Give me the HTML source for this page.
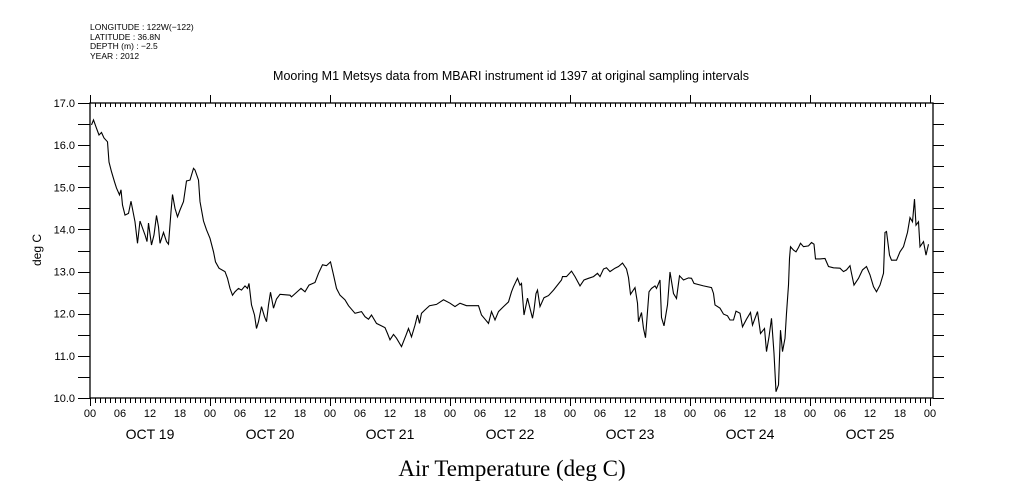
<!DOCTYPE html>
<html><head><meta charset="utf-8"><style>
body{margin:0;background:#fff;}
svg{display:block;font-family:"Liberation Sans",sans-serif;}
</style></head><body>
<svg id="chart" width="1009" height="504" viewBox="0 0 1009 504" xmlns="http://www.w3.org/2000/svg">
<rect width="1009" height="504" fill="#fff"/>
<g font-size="8.5" fill="#000">
<text x="90" y="30">LONGITUDE : 122W(−122)</text>
<text x="90" y="40">LATITUDE : 36.8N</text>
<text x="90" y="49">DEPTH (m) : −2.5</text>
<text x="90" y="59">YEAR : 2012</text>
</g>
<text x="511" y="80" font-size="12.5" text-anchor="middle">Mooring M1 Metsys data from MBARI instrument id 1397 at original sampling intervals</text>
<text x="0" y="0" font-size="12" text-anchor="middle" transform="translate(41,250) rotate(-90)">deg C</text>
<text x="512" y="476" font-size="23" text-anchor="middle" font-family="Liberation Serif, serif">Air Temperature (deg C)</text>
<g id="axes"></g>
<g id="series"></g>
</svg>
<script>
const hours=[0.3,0.7,1.3,1.8,2.3,2.8,3.5,3.8,4.3,4.9,5.3,5.9,6.2,6.5,7.0,7.7,8.2,9.0,9.5,10.0,11.0,11.4,11.7,12.3,12.8,13.3,13.7,14.0,14.7,15.3,15.7,16.2,16.5,17.0,17.5,18.0,18.7,19.3,20.0,20.7,21.0,21.7,22.0,22.7,23.3,24.0,24.7,25.1,25.8,27.0,27.5,28.0,28.5,29.0,29.7,30.3,31.0,31.5,31.8,32.3,32.9,33.3,33.7,34.3,34.9,35.3,35.7,36.1,36.7,37.3,38.0,40.0,40.3,42.2,43.0,43.8,45.0,45.7,46.5,47.3,48.1,48.7,49.3,50.0,51.0,51.7,53.0,54.3,55.0,55.7,56.3,57.3,59.0,
59.5,60.0,60.7,61.3,62.3,63.2,63.7,64.3,65.0,65.5,65.9,66.3,67.0,67.9,69.3,70.7,72.0,73.0,74.0,75.3,76.7,77.7,78.3,79.0,79.7,80.3,81.0,81.7,82.7,83.7,84.3,84.7,85.5,86.0,86.3,86.8,87.5,88.0,88.5,88.8,89.2,89.5,90.0,90.8,91.7,92.7,94.3,94.5,95.3,96.3,97.0,98.0,98.8,99.7,100.7,101.5,102.0,102.7,103.3,104.0,105.0,105.7,106.5,107.3,107.7,108.1,109.0,109.5,109.7,110.3,110.7,111.1,111.8,112.3,113.0,113.3,114.0,114.3,114.8,115.5,116.0,116.7,117.3,
117.9,118.7,119.7,120.3,120.8,122.7,124.3,124.7,125.0,126.0,126.7,127.5,128.0,128.7,129.2,130.0,130.5,131.3,132.1,132.5,133.5,134.1,134.9,135.3,135.8,136.3,136.8,137.2,137.7,138.1,138.5,139.0,139.3,139.7,139.9,140.1,140.7,141.2,141.7,142.1,142.7,143.7,144.3,144.8,145.1,146.0,147.0,147.7,148.7,150.0,150.7,151.3,152.0,152.3,152.8,153.7,154.5,155.3,156.0,156.7,157.3,158.0,158.7,159.0,159.3,159.9,160.3,161.3,162.0,162.7,163.5,164.0,164.5,164.9,165.2,165.7,166.0,166.7,167.2,167.7];
const temps=[16.48,16.6,16.4,16.24,16.3,16.17,16.08,15.6,15.37,15.13,14.98,14.82,14.94,14.58,14.34,14.38,14.67,14.18,13.67,14.2,13.87,13.71,14.15,13.63,13.87,14.33,14.06,13.67,13.93,13.71,13.65,14.42,14.83,14.5,14.3,14.46,14.66,15.15,15.17,15.45,15.41,15.17,14.66,14.2,13.99,13.79,13.47,13.23,13.08,13.0,12.84,12.6,12.44,12.52,12.6,12.56,12.66,12.6,12.72,12.21,11.97,11.65,11.81,12.17,11.93,11.81,12.21,12.51,12.13,12.35,12.46,12.44,12.4,12.6,12.52,12.68,12.74,12.96,13.16,13.14,13.23,12.92,12.6,12.44,12.33,12.19,12.01,12.05,11.93,11.87,11.97,11.77,11.67,
11.53,11.38,11.51,11.42,11.22,11.49,11.65,11.45,11.73,11.97,11.77,12.01,12.09,12.19,12.22,12.33,12.25,12.17,12.25,12.19,12.19,12.19,11.97,11.87,11.77,12.05,11.85,12.05,12.17,12.28,12.52,12.64,12.84,12.68,12.72,11.97,12.37,12.13,11.89,12.09,12.48,12.56,12.17,12.38,12.43,12.56,12.8,12.88,12.88,13.01,12.88,12.66,12.8,12.84,12.88,12.96,12.88,13.06,13.09,13.0,13.08,13.12,13.2,13.06,12.86,12.46,12.62,12.25,11.81,12.03,11.65,11.43,12.52,12.6,12.66,12.6,12.8,11.91,11.71,12.21,12.99,12.48,12.36,
12.9,12.8,12.85,12.84,12.72,12.66,12.62,12.48,12.21,12.13,11.99,11.95,11.85,11.85,12.06,12.01,11.69,11.87,12.03,11.73,12.05,11.53,11.65,11.1,11.45,11.89,11.06,10.15,10.31,11.61,11.1,11.42,12.01,12.68,13.31,13.59,13.51,13.47,13.57,13.67,13.59,13.61,13.69,13.65,13.3,13.3,13.31,13.12,13.09,13.08,13.0,13.04,13.14,12.96,12.68,12.84,13.04,13.12,12.92,12.64,12.52,12.68,12.96,13.93,13.95,13.39,13.27,13.27,13.47,13.59,13.93,14.28,14.18,14.72,14.1,14.18,13.59,13.71,13.39,13.65];
const yTicks=["10.0","11.0","12.0","13.0","14.0","15.0","16.0","17.0"];
const dayLabels=["OCT 19","OCT 20","OCT 21","OCT 22","OCT 23","OCT 24","OCT 25"];
const hourLabels=["00","06","12","18"];

const X0=90,X1=930,FR=933,Y0=103,Y1=398,YMIN=10,YMAX=17,TOT=168;
const xs=h=>X0+(X1-X0)*h/TOT;
const ys=v=>Y1-(Y1-Y0)*(v-YMIN)/(YMAX-YMIN);
const NS="http://www.w3.org/2000/svg";
const axes=document.getElementById('axes');
function mk(tag,attrs,parent){const e=document.createElementNS(NS,tag);for(const k in attrs)e.setAttribute(k,attrs[k]);parent.appendChild(e);return e;}

const frame=mk('rect',{x:X0,y:Y0,width:FR-X0,height:Y1-Y0,fill:'none',stroke:'#000','stroke-width':1.3},axes);



let tp='';
for(let h=0;h<=TOT;h++){
  const x=Math.round(xs(h))+0.5;
  if(h%24===0){tp+=`M${x} ${Y0-8}V${Y0}M${x} ${Y1}V${Y1+8}`;}
  else{tp+=`M${x} ${Y0}V${Y0+4}M${x} ${Y1}V${Y1+5}`;}
}
for(let v=YMIN;v<=YMAX+0.001;v+=0.5){
  const y=Math.round(ys(v))+0.5;
  tp+=`M${X0-12} ${y}H${X0}M${FR} ${y}H${FR+11}`;
}
const ticks=mk('path',{d:tp,stroke:'#000','stroke-width':1,fill:'none'},axes);



yTicks.forEach(t=>{
  const e=mk('text',{x:75,y:ys(parseFloat(t))+4,'font-size':11,'text-anchor':'end'},axes);
  e.textContent=t;
  
  
});
for(let d=0;d<=7;d++){
  for(let k=0;k<4;k++){
    if(d===7&&k>0)break;
    const h=d*24+k*6;
    const e=mk('text',{x:xs(h),y:417,'font-size':11,'text-anchor':'middle'},axes);
    e.textContent=hourLabels[k];
    
    
  }
}
dayLabels.forEach((t,i)=>{
  const e=mk('text',{x:xs(i*24+12),y:439,'font-size':14,'text-anchor':'middle'},axes);
  e.textContent=t;
  
  
});

const pts=hours.map((h,i)=>xs(h).toFixed(1)+','+ys(temps[i]).toFixed(1)).join(' ');
const line=mk('polyline',{points:pts,fill:'none',stroke:'#000','stroke-width':1.1},document.getElementById('series'));


</script>
</body></html>
